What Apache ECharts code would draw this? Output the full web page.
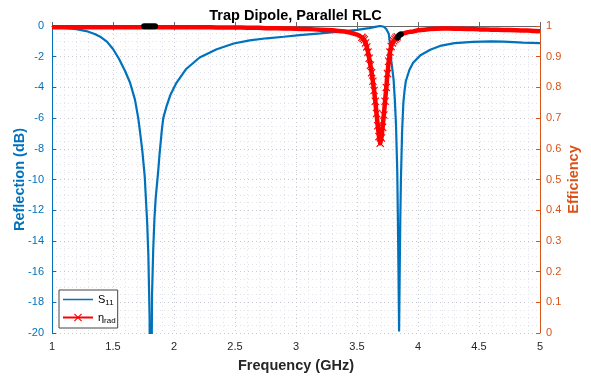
<!DOCTYPE html>
<html><head><meta charset="utf-8">
<script src="https://cdn.jsdelivr.net/npm/echarts@6/dist/echarts.min.js"></script>
<style>html,body{margin:0;padding:0;background:#fff}#c{width:591px;height:378px}</style>
</head><body><div id="c"></div>
<script>
// S11 (dB) vs frequency (GHz)
var freqS = [1.00,1.10,1.20,1.28,1.35,1.40,1.45,1.50,1.55,1.60,1.64,1.68,1.707,1.72,1.74,1.76,1.78,1.79,1.80,1.805,1.81,1.815,1.82,1.83,1.84,1.85,1.87,1.88,1.90,1.912,1.94,1.97,2.02,2.10,2.21,2.35,2.49,2.62,2.76,2.90,3.03,3.20,3.40,3.50,3.60,3.65,3.69,3.72,3.74,3.76,3.77,3.78,3.80,3.81,3.82,3.83,3.835,3.84,3.845,3.85,3.855,3.86,3.87,3.88,3.89,3.90,3.93,3.96,4.02,4.10,4.18,4.30,4.45,4.60,4.70,4.86,5.00];
var s11 = [-0.08,-0.12,-0.2,-0.33,-0.52,-0.72,-1.02,-1.5,-2.15,-2.95,-3.7,-4.8,-6.0,-6.8,-8.1,-9.8,-12.8,-15.0,-19.0,-26,-35,-24,-17.5,-14.5,-12.5,-11.2,-9.5,-8.5,-6.8,-6.0,-5.2,-4.5,-3.7,-2.8,-2.05,-1.52,-1.14,-0.94,-0.8,-0.7,-0.6,-0.48,-0.33,-0.25,-0.14,-0.06,0.0,-0.05,-0.2,-0.5,-1.1,-2.2,-3.5,-4.8,-6.5,-9.5,-12.5,-16,-19.9,-16,-12.5,-10,-6.8,-5.0,-4.2,-3.6,-2.85,-2.4,-1.9,-1.55,-1.3,-1.12,-1.03,-1.0,-1.02,-1.08,-1.12];

// Radiation efficiency vs frequency (GHz)
var freqE = [1.00,1.05,1.10,1.15,1.20,1.25,1.30,1.35,1.40,1.45,1.50,1.55,1.60,1.65,1.70,1.75,1.80,1.85,1.90,1.95,2.00,2.05,2.10,2.15,2.20,2.25,2.30,2.35,2.40,2.45,2.50,2.55,2.60,2.65,2.70,2.75,2.80,2.85,2.90,2.95,3.00,3.05,3.10,3.15,3.20,3.25,3.30,3.35,3.40,3.45,3.50,3.51,3.52,3.53,3.54,3.55,3.56,3.57,3.58,3.59,3.60,3.61,3.62,3.63,3.64,3.65,3.66,3.67,3.68,3.69,3.70,3.71,3.72,3.73,3.74,3.75,3.76,3.77,3.78,3.79,3.80,3.81,3.82,3.83,3.84,3.85,3.86,3.87,3.88,3.89,3.90,3.92,3.94,3.96,3.98,4.00,4.05,4.10,4.15,4.20,4.25,4.30,4.35,4.40,4.45,4.50,4.55,4.60,4.65,4.70,4.75,4.80,4.85,4.90,4.95,5.00];
var eff = [0.996,0.996,0.996,0.996,0.996,0.996,0.996,0.996,0.996,0.996,0.996,0.996,0.996,0.996,0.996,0.996,0.996,0.996,0.996,0.996,0.996,0.996,0.996,0.996,0.996,0.996,0.996,0.995,0.995,0.995,0.995,0.995,0.994,0.994,0.994,0.993,0.993,0.993,0.992,0.992,0.991,0.990,0.990,0.989,0.988,0.987,0.986,0.984,0.982,0.978,0.972,0.970,0.968,0.966,0.963,0.959,0.955,0.945,0.932,0.915,0.895,0.872,0.848,0.820,0.790,0.755,0.715,0.675,0.640,0.618,0.635,0.670,0.710,0.755,0.800,0.845,0.885,0.915,0.933,0.945,0.952,0.957,0.961,0.965,0.968,0.971,0.973,0.975,0.976,0.977,0.978,0.980,0.981,0.982,0.984,0.986,0.988,0.990,0.991,0.992,0.992,0.991,0.991,0.990,0.990,0.989,0.989,0.988,0.988,0.987,0.987,0.986,0.985,0.985,0.984,0.983];

// Efficiency where S11 is below -10 dB (black highlights)
var freqB1 = [1.755,1.77,1.79,1.81,1.83,1.845];
var effB1 = [0.999,0.999,0.999,0.999,0.999,0.999];
var freqB2 = [3.832,3.84,3.85,3.86];
var effB2 = [0.962,0.967,0.971,0.973];

var xTicks = ['1','1.5','2','2.5','3','3.5','4','4.5','5'];

var BLUE = '#0072BD', ORANGE = '#D95319', DARK = '#262626';
var FONT = 'Liberation Sans, Arial, Helvetica, sans-serif';
var xMark = 'path://M1,0L5,4L9,0L10,1L6,5L10,9L9,10L5,6L1,10L0,9L4,5L0,1Z';
var lineIcon = 'path://M0,0H0.01V0.01H0Z M0,4.2H30V5.8H0Z M0,9.99H0.01V10H0Z';

function pairs(x, y){ return x.map(function(v,i){ return [v, y[i]]; }); }
// markers drawn where the sampled points are spread out (the dip); elsewhere they merge into the thick band
var effData = freqE.map(function(f,i){
  var item = {value: [f, eff[i]]};
  if (eff[i] > 0.965) item.symbol = 'none';
  return item;
});

var chart = echarts.init(document.getElementById('c'), null, {renderer:'canvas'});
chart.setOption({
  animation: false,
  backgroundColor: '#fff',
  textStyle: {fontFamily: FONT},
  title: {text: 'Trap Dipole, Parallel RLC', left: 'center', top: 3,
    textStyle: {fontSize: 14.5, fontWeight: 'bold', color: '#000', fontFamily: FONT}},
  grid: {left: 52, right: 51, top: 26, bottom: 43, containLabel: false},
  legend: {
    left: 59, top: 290, orient: 'vertical', itemWidth: 30, itemHeight: 10, itemGap: 5,
    backgroundColor: '#fff', borderColor: '#444', borderWidth: 1, borderRadius: 0,
    padding: [4, 2, 3, 3],
    data: [{name: 'S11', icon: lineIcon}, {name: 'eta'}],
    formatter: function(n){ return n === 'S11' ? '{m|S}{s|11}' : '{m|η}{s|rad}'; },
    textStyle: {color: '#000', fontFamily: FONT,
      rich: {m: {fontSize: 11, color: '#000', fontFamily: FONT}, s: {fontSize: 8, color: '#000', padding: [7,0,0,0], fontFamily: FONT}}}
  },
  xAxis: [{
    type: 'value', min: 1, max: 5, interval: 0.5,
    name: 'Frequency (GHz)', nameLocation: 'middle', nameGap: 25,
    nameTextStyle: {fontSize: 14.5, fontWeight: 'bold', color: DARK, fontFamily: FONT},
    axisLine: {show: true, lineStyle: {color: '#666', width: 1}},
    axisTick: {show: true, inside: true, length: 4, lineStyle: {color: '#666'}},
    axisLabel: {color: DARK, fontSize: 11, margin: 8, fontFamily: FONT,
      formatter: function(v){ var s = String(+v.toFixed(1)); return xTicks.indexOf(s) >= 0 ? s : ''; }},
    splitLine: {show: true, lineStyle: {color: '#c6c8d4', type: [1,3], width: 1}},
    minorTick: {show: false, splitNumber: 5},
    minorSplitLine: {show: true, lineStyle: {color: '#e2e3ea', type: [1,3], width: 1}}
  }, {
    type: 'value', min: 1, max: 5, interval: 0.5, position: 'top',
    axisLine: {show: true, onZero: false, lineStyle: {color: '#666', width: 1}},
    axisTick: {show: true, inside: true, length: 4, lineStyle: {color: '#666'}},
    axisLabel: {show: false}, splitLine: {show: false}
  }],
  yAxis: [{
    type: 'value', min: -20, max: 0, interval: 2, position: 'left',
    name: 'Reflection (dB)', nameLocation: 'middle', nameGap: 25, nameMoveOverlap: false,
    nameTextStyle: {fontSize: 14.5, fontWeight: 'bold', color: BLUE, fontFamily: FONT},
    axisLine: {show: true, lineStyle: {color: BLUE, width: 1}},
    axisTick: {show: true, inside: true, length: 4, lineStyle: {color: BLUE}},
    axisLabel: {color: BLUE, fontSize: 11, margin: 8, fontFamily: FONT},
    splitLine: {show: true, lineStyle: {color: '#c6c8d4', type: [1,3], width: 1}},
    minorTick: {show: false, splitNumber: 4},
    minorSplitLine: {show: true, lineStyle: {color: '#e2e3ea', type: [1,3], width: 1}}
  }, {
    type: 'value', min: 0, max: 1, interval: 0.1, position: 'right',
    name: 'Efficiency', nameLocation: 'middle', nameGap: 26, nameRotate: 90, nameMoveOverlap: false,
    nameTextStyle: {fontSize: 14.5, fontWeight: 'bold', color: ORANGE, fontFamily: FONT},
    axisLine: {show: true, lineStyle: {color: ORANGE, width: 1}},
    axisTick: {show: true, inside: true, length: 4, lineStyle: {color: ORANGE}},
    axisLabel: {color: ORANGE, fontSize: 11, margin: 6, fontFamily: FONT,
      formatter: function(v){ return String(+v.toFixed(1)); }},
    splitLine: {show: false}
  }],
  series: [{
    name: 'S11', type: 'line', xAxisIndex: 0, yAxisIndex: 0,
    data: pairs(freqS, s11), showSymbol: false, symbol: 'none', clip: true,
    lineStyle: {color: BLUE, width: 2.2}, itemStyle: {color: BLUE}, z: 3
  }, {
    name: 'eta', type: 'line', xAxisIndex: 0, yAxisIndex: 1,
    data: effData, symbol: xMark, symbolSize: 8, showAllSymbol: true, clip: true,
    lineStyle: {color: '#ff0000', width: 4.5, join: 'round'}, itemStyle: {color: '#ff0000'}, z: 4
  }, {
    name: 'hi1', type: 'line', xAxisIndex: 0, yAxisIndex: 1,
    data: pairs(freqB1, effB1), showSymbol: false, symbol: 'none', clip: true,
    lineStyle: {color: '#000', width: 6, cap: 'round'}, z: 5
  }, {
    name: 'hi2', type: 'line', xAxisIndex: 0, yAxisIndex: 1,
    data: pairs(freqB2, effB2), showSymbol: false, symbol: 'none', clip: true,
    lineStyle: {color: '#000', width: 6, cap: 'round'}, z: 5
  }]
});
</script></body></html>
